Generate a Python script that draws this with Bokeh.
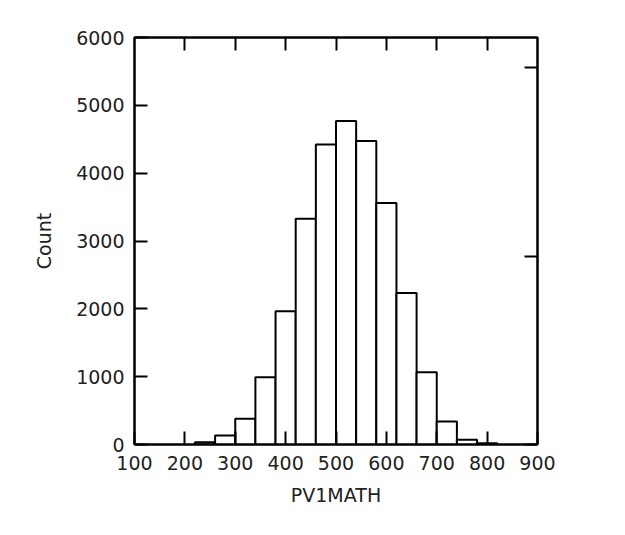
from bokeh.plotting import figure
from bokeh.models import LinearAxis, Range1d, FixedTicker, CustomJSTickFormatter
from bokeh.embed import file_html
from bokeh.resources import INLINE

# Histogram of PV1MATH (bin edges and counts)
bin_left = [220, 260, 300, 340, 380, 420, 460, 500, 540, 580, 620, 660, 700, 740, 780]
bin_right = [260, 300, 340, 380, 420, 460, 500, 540, 580, 620, 660, 700, 740, 780, 820]
counts = [34, 133, 379, 993, 1966, 3328, 4424, 4768, 4473, 3559, 2232, 1066, 339, 69, 20]

x_ticks = [100, 200, 300, 400, 500, 600, 700, 800, 900]
y_ticks = [0, 1000, 2000, 3000, 4000, 5000, 6000]
prop_ticks = [0.0, 0.1, 0.2]

total = sum(counts)
FONT = "DejaVu Sans"

p = figure(width=617, height=527, output_backend="svg", toolbar_location=None,
           x_range=Range1d(100, 900), y_range=Range1d(0, 6000),
           min_border_left=134, min_border_right=80, min_border_top=37, min_border_bottom=83)
p.background_fill_color = "white"
p.border_fill_color = "white"
p.outline_line_color = "black"
p.outline_line_width = 2
p.grid.visible = False

p.quad(left=bin_left, right=bin_right, bottom=0, top=counts,
       fill_color="white", line_color="black", line_width=2)

for ax in (p.xaxis[0], p.yaxis[0]):
    ax.axis_line_width = 2
    ax.major_tick_line_width = 2
    ax.major_tick_in = 13
    ax.major_tick_out = 0
    ax.minor_tick_line_color = None
    ax.major_label_text_font = FONT
    ax.major_label_text_font_size = "19px"
    ax.major_label_text_color = "#222222"
    ax.axis_label_text_font = FONT
    ax.axis_label_text_font_size = "19px"
    ax.axis_label_text_font_style = "normal"
    ax.axis_label_text_color = "#222222"

p.xaxis[0].ticker = FixedTicker(ticks=x_ticks)
p.yaxis[0].ticker = FixedTicker(ticks=y_ticks)
p.xaxis[0].axis_label = "PV1MATH"
p.yaxis[0].axis_label = "Count"
p.xaxis[0].major_label_standoff = 11
p.yaxis[0].major_label_standoff = 10
p.xaxis[0].axis_label_standoff = 11
p.yaxis[0].axis_label_standoff = 18

blank = CustomJSTickFormatter(code="return ''")

top = LinearAxis(ticker=FixedTicker(ticks=x_ticks[1:-1]), formatter=blank)
p.add_layout(top, "above")

p.extra_y_ranges = {"prop": Range1d(0, 6000 / total)}
right = LinearAxis(y_range_name="prop", ticker=FixedTicker(ticks=prop_ticks), formatter=blank)
p.add_layout(right, "right")

for ax in (top, right):
    ax.axis_line_width = 2
    ax.major_tick_line_width = 2
    ax.major_tick_in = 13
    ax.major_tick_out = 0
    ax.minor_tick_line_color = None
    ax.major_label_standoff = 0
    ax.major_label_text_font_size = "1px"

open("out.html", "w").write(file_html(p, INLINE))
